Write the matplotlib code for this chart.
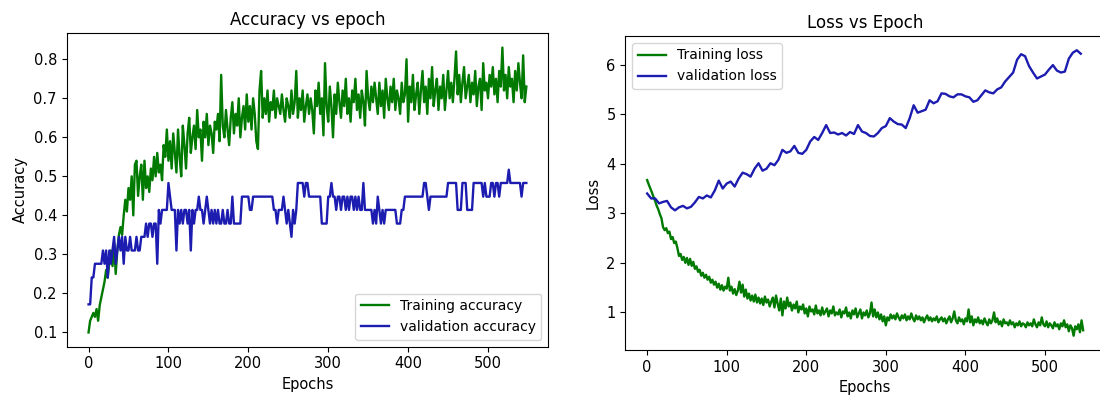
import numpy as np
import matplotlib
matplotlib.use("Agg")
import matplotlib.pyplot as plt

# epochs sampled every 2 (accuracy + training loss) and every 5 (validation loss)
epochs = np.arange(0, 550, 2)
epochs_vl = np.arange(0, 550, 5)

train_acc = [
    0.10, 0.13, 0.14, 0.15, 0.14, 0.16, 0.13, 0.17, 0.19, 0.21,
    0.23, 0.26, 0.24, 0.28, 0.31, 0.27, 0.33, 0.25, 0.31, 0.35,
    0.37, 0.35, 0.40, 0.44, 0.41, 0.47, 0.44, 0.50, 0.40, 0.53,
    0.54, 0.45, 0.50, 0.53, 0.44, 0.54, 0.47, 0.50, 0.46, 0.52,
    0.49, 0.55, 0.50, 0.56, 0.51, 0.53, 0.49, 0.58, 0.55, 0.62,
    0.54, 0.59, 0.52, 0.61, 0.56, 0.51, 0.62, 0.55, 0.50, 0.63,
    0.58, 0.52, 0.61, 0.65, 0.56, 0.60, 0.63, 0.57, 0.67, 0.60,
    0.62, 0.54, 0.64, 0.60, 0.66, 0.58, 0.63, 0.61, 0.56, 0.64,
    0.62, 0.66, 0.59, 0.76, 0.63, 0.60, 0.67, 0.62, 0.58, 0.65,
    0.69, 0.61, 0.66, 0.63, 0.70, 0.60, 0.65, 0.68, 0.62, 0.71,
    0.64, 0.68, 0.62, 0.70, 0.66, 0.59, 0.57, 0.72, 0.77, 0.65,
    0.70, 0.66, 0.72, 0.64, 0.69, 0.67, 0.72, 0.65, 0.70, 0.68,
    0.66, 0.71, 0.67, 0.64, 0.70, 0.68, 0.65, 0.72, 0.66, 0.69,
    0.77, 0.65, 0.70, 0.67, 0.72, 0.64, 0.68, 0.71, 0.66, 0.70,
    0.67, 0.61, 0.72, 0.68, 0.74, 0.66, 0.70, 0.605, 0.79, 0.68,
    0.64, 0.73, 0.68, 0.60, 0.71, 0.66, 0.74, 0.69, 0.65, 0.72,
    0.68, 0.75, 0.66, 0.70, 0.64, 0.72, 0.69, 0.75, 0.67, 0.71,
    0.65, 0.72, 0.69, 0.63, 0.77, 0.70, 0.67, 0.73, 0.69, 0.74,
    0.70, 0.66, 0.74, 0.68, 0.72, 0.65, 0.75, 0.70, 0.67, 0.73,
    0.69, 0.75, 0.67, 0.72, 0.70, 0.66, 0.74, 0.69, 0.71, 0.80,
    0.64, 0.73, 0.69, 0.76, 0.67, 0.71, 0.74, 0.66, 0.72, 0.77,
    0.69, 0.73, 0.66, 0.75, 0.70, 0.78, 0.68, 0.72, 0.75, 0.67,
    0.73, 0.70, 0.76, 0.67, 0.72, 0.77, 0.70, 0.74, 0.69, 0.75,
    0.82, 0.71, 0.76, 0.69, 0.74, 0.78, 0.70, 0.73, 0.76, 0.69,
    0.74, 0.71, 0.77, 0.68, 0.73, 0.75, 0.67, 0.79, 0.72, 0.74,
    0.70, 0.76, 0.73, 0.78, 0.71, 0.75, 0.69, 0.77, 0.73, 0.83,
    0.72, 0.76, 0.70, 0.78, 0.73, 0.75, 0.69, 0.77, 0.72, 0.79,
    0.74, 0.70, 0.81, 0.69, 0.73,
]

val_acc = [
    0.172, 0.172, 0.241, 0.241, 0.276, 0.276, 0.276, 0.276, 0.276, 0.310,
    0.276, 0.310, 0.241, 0.310, 0.276, 0.310, 0.345, 0.276, 0.310, 0.345,
    0.310, 0.345, 0.276, 0.345, 0.310, 0.310, 0.345, 0.310, 0.310, 0.310,
    0.345, 0.310, 0.310, 0.345, 0.345, 0.345, 0.379, 0.345, 0.379, 0.379,
    0.345, 0.379, 0.379, 0.276, 0.414, 0.379, 0.414, 0.414, 0.414, 0.414,
    0.483, 0.448, 0.414, 0.414, 0.414, 0.310, 0.414, 0.379, 0.414, 0.379,
    0.414, 0.414, 0.379, 0.414, 0.310, 0.414, 0.379, 0.414, 0.414, 0.448,
    0.414, 0.414, 0.379, 0.414, 0.448, 0.414, 0.379, 0.414, 0.379, 0.414,
    0.379, 0.414, 0.379, 0.379, 0.414, 0.379, 0.379, 0.414, 0.379, 0.379,
    0.448, 0.379, 0.379, 0.379, 0.379, 0.379, 0.448, 0.448, 0.448, 0.448,
    0.448, 0.414, 0.414, 0.448, 0.448, 0.448, 0.448, 0.448, 0.448, 0.448,
    0.448, 0.448, 0.448, 0.448, 0.448, 0.448, 0.414, 0.414, 0.379, 0.414,
    0.414, 0.414, 0.448, 0.414, 0.379, 0.414, 0.379, 0.345, 0.414, 0.379,
    0.414, 0.483, 0.483, 0.483, 0.483, 0.448, 0.483, 0.483, 0.448, 0.448,
    0.448, 0.448, 0.448, 0.448, 0.448, 0.448, 0.379, 0.379, 0.379, 0.379,
    0.448, 0.448, 0.483, 0.448, 0.448, 0.414, 0.448, 0.448, 0.414, 0.448,
    0.448, 0.414, 0.448, 0.414, 0.448, 0.448, 0.414, 0.448, 0.414, 0.448,
    0.414, 0.414, 0.483, 0.414, 0.414, 0.414, 0.414, 0.414, 0.379, 0.414,
    0.379, 0.448, 0.414, 0.379, 0.414, 0.379, 0.414, 0.414, 0.414, 0.414,
    0.414, 0.414, 0.414, 0.379, 0.379, 0.379, 0.414, 0.414, 0.448, 0.448,
    0.448, 0.448, 0.448, 0.448, 0.448, 0.448, 0.448, 0.448, 0.448, 0.448,
    0.483, 0.483, 0.448, 0.414, 0.448, 0.448, 0.448, 0.448, 0.448, 0.448,
    0.448, 0.448, 0.448, 0.448, 0.448, 0.483, 0.483, 0.483, 0.483, 0.483,
    0.483, 0.414, 0.414, 0.414, 0.483, 0.483, 0.483, 0.414, 0.414, 0.414,
    0.414, 0.483, 0.483, 0.483, 0.483, 0.483, 0.483, 0.448, 0.483, 0.448,
    0.448, 0.448, 0.483, 0.483, 0.448, 0.483, 0.483, 0.448, 0.483, 0.483,
    0.483, 0.483, 0.483, 0.517, 0.483, 0.483, 0.483, 0.483, 0.483, 0.483,
    0.483, 0.448, 0.483, 0.483, 0.483,
]

train_loss = [
    3.67, 3.58, 3.50, 3.42, 3.33, 3.25, 3.15, 3.08, 2.98, 2.90,
    2.72, 2.66, 2.70, 2.60, 2.63, 2.48, 2.52, 2.40, 2.43, 2.30,
    2.14, 2.18, 2.06, 2.12, 2.00, 2.10, 1.96, 2.08, 1.94, 2.02,
    1.88, 1.93, 1.82, 1.86, 1.74, 1.80, 1.70, 1.76, 1.66, 1.72,
    1.60, 1.66, 1.56, 1.62, 1.50, 1.58, 1.46, 1.55, 1.44, 1.52,
    1.48, 1.70, 1.44, 1.52, 1.38, 1.47, 1.35, 1.44, 1.62, 1.40,
    1.56, 1.32, 1.46, 1.28, 1.38, 1.24, 1.34, 1.22, 1.36, 1.20,
    1.30, 1.18, 1.28, 1.15, 1.32, 1.20, 1.26, 1.12, 1.22, 1.30,
    1.10, 1.34, 1.18, 1.04, 1.28, 0.94, 1.22, 1.08, 1.30, 1.12,
    1.20, 1.04, 1.16, 1.08, 1.22, 1.00, 1.12, 1.06, 1.16, 0.98,
    1.08, 0.92, 1.12, 1.02, 1.06, 0.96, 1.14, 0.98, 1.04, 0.94,
    1.10, 0.96, 1.02, 1.08, 0.92, 1.04, 0.98, 1.12, 0.94, 1.00,
    0.96, 1.06, 0.90, 1.02, 0.98, 1.10, 0.92, 1.00, 0.88, 1.04,
    0.96, 1.08, 0.90, 0.98, 1.06, 0.88, 1.00, 0.94, 1.04, 0.90,
    0.98, 1.20, 0.92, 1.06, 0.90, 1.00, 0.86, 0.96, 0.82, 0.92,
    0.74, 0.90, 0.84, 0.96, 0.88, 0.94, 0.86, 0.98, 0.90, 0.84,
    0.94, 0.88, 0.96, 0.84, 0.92, 0.86, 0.98, 0.88, 0.82, 0.94,
    0.86, 0.92, 0.84, 0.90, 0.80, 0.88, 0.94, 0.84, 0.90, 0.82,
    0.88, 0.84, 0.92, 0.80, 0.86, 0.90, 0.82, 0.88, 0.78, 0.86,
    0.92, 0.80, 0.88, 1.02, 0.84, 0.78, 0.90, 0.82, 0.86, 0.76,
    0.88, 0.82, 1.06, 0.80, 0.92, 0.74, 0.86, 0.80, 0.90, 0.78,
    0.84, 0.76, 0.88, 0.80, 0.74, 0.86, 0.78, 0.84, 1.00, 0.80,
    0.88, 0.76, 0.82, 0.72, 0.86, 0.78, 0.80, 0.74, 0.84, 0.76,
    0.80, 0.70, 0.78, 0.74, 0.82, 0.72, 0.78, 0.76, 0.70, 0.80,
    0.74, 0.78, 0.72, 0.86, 0.76, 0.70, 0.80, 0.74, 0.90, 0.76,
    0.72, 0.82, 0.70, 0.78, 0.74, 0.68, 0.80, 0.72, 0.76, 0.66,
    0.78, 0.72, 0.84, 0.70, 0.76, 0.62, 0.74, 0.68, 0.53, 0.72,
    0.66, 0.76, 0.60, 0.84, 0.64,
]

val_loss = [
    3.40, 3.30, 3.30, 3.20, 3.23, 3.25, 3.12, 3.06, 3.12, 3.15,
    3.10, 3.13, 3.22, 3.33, 3.30, 3.36, 3.32, 3.46, 3.66, 3.50,
    3.60, 3.64, 3.54, 3.70, 3.82, 3.79, 3.74, 3.90, 4.01, 3.86,
    3.90, 4.01, 3.97, 4.08, 4.28, 4.22, 4.25, 4.36, 4.22, 4.20,
    4.28, 4.45, 4.54, 4.48, 4.62, 4.78, 4.62, 4.63, 4.59, 4.62,
    4.57, 4.64, 4.60, 4.78, 4.65, 4.62, 4.56, 4.55, 4.62, 4.72,
    4.76, 4.92, 4.85, 4.80, 4.79, 4.72, 4.92, 5.18, 5.03, 5.06,
    5.09, 5.28, 5.22, 5.26, 5.42, 5.41, 5.36, 5.34, 5.40, 5.40,
    5.36, 5.34, 5.25, 5.28, 5.38, 5.48, 5.44, 5.42, 5.50, 5.54,
    5.66, 5.75, 5.84, 6.10, 6.21, 6.17, 5.97, 5.84, 5.72, 5.76,
    5.80, 5.90, 5.99, 5.88, 5.84, 5.86, 6.12, 6.24, 6.29, 6.22,
]

green = "#007a00"
blue = "#1c1cb0"

fig = plt.figure(figsize=(11, 3.97), dpi=100)

# accuracy
ax1 = fig.add_axes([0.0606, 0.1267, 0.4378, 0.7894])
ax1.plot(epochs, train_acc, color=green, lw=1.7, label="Training accuracy")
ax1.plot(epochs, val_acc, color=blue, lw=1.7, label="validation accuracy")
ax1.set_title("Accuracy vs epoch", fontsize=12)
ax1.set_xlabel("Epochs", fontsize=10.5)
ax1.set_ylabel("Accuracy", fontsize=10.5)
ax1.tick_params(labelsize=10.5)
ax1.legend(loc="lower right", fontsize=10)

# loss
ax2 = fig.add_axes([0.5685, 0.1184, 0.436, 0.791])
ax2.plot(epochs, train_loss, color=green, lw=1.7, label="Training loss")
ax2.plot(epochs_vl, val_loss, color=blue, lw=1.7, label="validation loss")
ax2.set_title("Loss vs Epoch", fontsize=12)
ax2.set_xlabel("Epochs", fontsize=10.5)
ax2.set_ylabel("Loss", fontsize=10.5)
ax2.tick_params(labelsize=10.5)
ax2.legend(loc="upper left", fontsize=10)

fig.savefig("out.png", dpi=100)
